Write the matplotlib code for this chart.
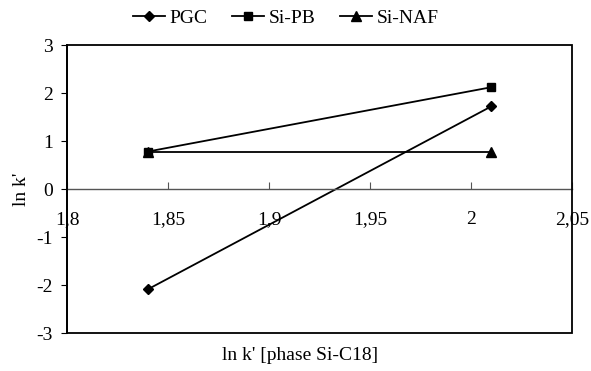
import matplotlib.pyplot as plt
from matplotlib.patches import Rectangle
from matplotlib.ticker import FuncFormatter

# data
x = [1.84, 2.01]
pgc = [-2.09, 1.72]
si_pb = [0.78, 2.12]
si_naf = [0.78, 0.78]

xticks = [1.8, 1.85, 1.9, 1.95, 2.0, 2.05]
yticks = [-3, -2, -1, 0, 1, 2, 3]

plt.rcParams['font.family'] = ['Liberation Serif', 'DejaVu Serif']
plt.rcParams['font.size'] = 14
plt.rcParams['axes.unicode_minus'] = False

fig = plt.figure(figsize=(5.91, 3.71), dpi=100)
ax = fig.add_axes([67/591, 1 - 333/371, (572-67)/591, (333-45)/371])

ax.plot(x, pgc, 'k-', marker='D', markersize=5.5, lw=1.3, label='PGC')
ax.plot(x, si_pb, 'k-', marker='s', markersize=6, lw=1.3, label='Si-PB')
ax.plot(x, si_naf, 'k-', marker='^', markersize=7, lw=1.3, label='Si-NAF')

ax.set_xlim(1.8, 2.05)
ax.set_ylim(-3, 3)
ax.set_xticks(xticks)
ax.set_yticks(yticks)

# comma decimal separator
ax.xaxis.set_major_formatter(FuncFormatter(lambda v, p: ('%g' % v).replace('.', ',')))

# x axis crosses at 0
ax.spines['bottom'].set_position(('data', 0))
ax.spines['bottom'].set_color('#555555')
ax.spines['bottom'].set_linewidth(1.0)
ax.spines['top'].set_visible(False)
ax.spines['right'].set_visible(False)
ax.spines['left'].set_linewidth(1.3)
ax.add_patch(Rectangle((0, 0), 1, 1, transform=ax.transAxes, fill=False,
                       ec='black', lw=1.3, clip_on=False, zorder=3))

ax.tick_params(axis='x', direction='in', length=5, pad=16, color='#555555')
ax.tick_params(axis='y', direction='out', length=4, pad=6)

fig.text(22/591, 1 - 189/371, "ln k'", rotation=90, ha='center', va='center')
fig.text(300/591, 1 - 355/371, "ln k' [phase Si-C18]", ha='center', va='center')

fig.legend(loc='center', bbox_to_anchor=(286/591, 1 - 18/371), ncol=3, frameon=False,
           handlelength=1.65, columnspacing=1.25, handletextpad=0.25)

fig.savefig('out.png', dpi=100)
